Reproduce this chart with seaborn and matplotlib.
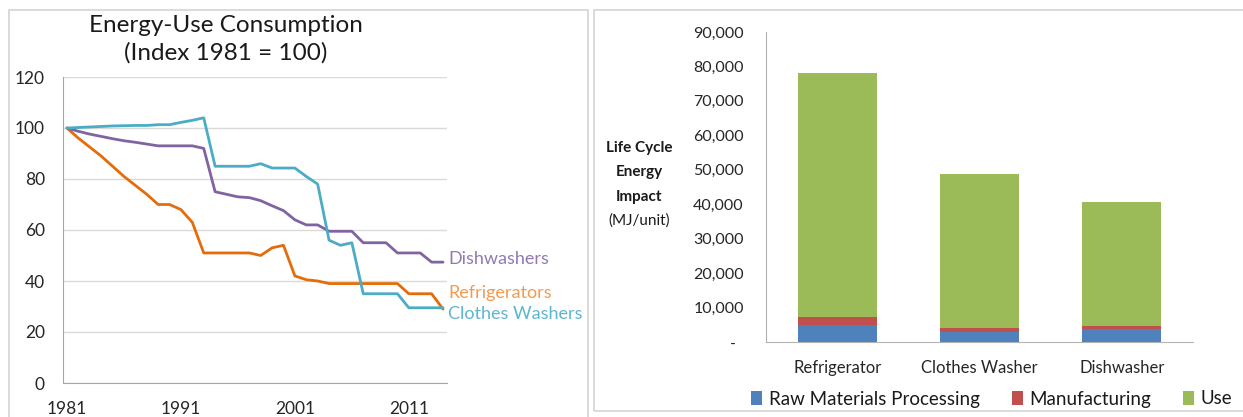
import pandas as pd
import matplotlib
matplotlib.use("Agg")
import matplotlib.pyplot as plt
import seaborn as sns
from matplotlib.patches import Patch, Rectangle
from matplotlib.ticker import FixedLocator

# --- data ---
years = list(range(1981, 2015))
refrigerators = [100, 96, 92.5, 89, 85, 81, 77.5, 74, 70, 70,
                 68, 63, 51, 51, 51, 51, 51, 50, 53, 54,
                 42, 40.5, 40, 39, 39, 39, 39, 39, 39, 39,
                 35, 35, 35, 29]
dishwashers = [100, 98.7, 97.6, 96.7, 95.8, 95, 94.4, 93.7, 93, 93,
               93, 93, 92, 75, 74, 73, 72.7, 71.5, 69.5, 67.6,
               64, 62, 62, 59.5, 59.5, 59.5, 55, 55, 55, 51,
               51, 51, 47.4, 47.4]
clothes_washers = [100, 100.2, 100.4, 100.6, 100.8, 100.9, 101, 101, 101.3, 101.3,
                   102.2, 103, 104, 85, 85, 85, 85, 86, 84.3, 84.3,
                   84.3, 81, 78, 56, 54, 55, 35, 35, 35, 35,
                   29.5, 29.5, 29.5, 29.5]

appliances = ["Refrigerator", "Clothes Washer", "Dishwasher"]
raw_materials = [5000, 2900, 3800]
manufacturing = [2200, 1100, 950]
use_phase = [71000, 44850, 35950]

sns.set_style("white")
plt.rcParams["font.family"] = ["Lato", "DejaVu Sans"]

W, H = 1243, 417
fig = plt.figure(figsize=(W / 100, H / 100), dpi=100)

def box(x0, y0, x1, y1):
    # pixel box (top-left origin) -> figure fraction rect
    return [x0 / W, 1 - y1 / H, (x1 - x0) / W, (y1 - y0) / H]

# panel frames
for x0, y0, x1, y1 in [(9, 10, 588, 425), (594, 10, 1250, 411)]:
    r = box(x0, y0, x1, y1)
    fig.add_artist(Rectangle((r[0], r[1]), r[2], r[3], transform=fig.transFigure,
                             fill=False, edgecolor="#D4D4D4", linewidth=1.2))

# ---------------- left: energy-use index ----------------
ax1 = fig.add_axes(box(63, 77, 447, 383))
df = pd.DataFrame({
    "year": years * 3,
    "index": refrigerators + dishwashers + clothes_washers,
    "appliance": ["Refrigerators"] * len(years) + ["Dishwashers"] * len(years)
                 + ["Clothes Washers"] * len(years),
})
line_colors = {"Refrigerators": "#E46C0A", "Dishwashers": "#8064A2",
               "Clothes Washers": "#4BACC6"}
sns.lineplot(data=df, x="year", y="index", hue="appliance", palette=line_colors,
             linewidth=2.0, legend=False, ax=ax1)
ax1.set_xlim(1980.65, 2014.35)
ax1.set_ylim(0, 120)
ax1.set_yticks(range(0, 121, 20))
ax1.set_xticks([1981, 1991, 2001, 2011])
ax1.yaxis.grid(True, color="#DADADA", linewidth=1)
ax1.set_axisbelow(True)
ax1.set_xlabel("")
ax1.set_ylabel("")
for s in ["top", "right"]:
    ax1.spines[s].set_visible(False)
for s in ["left", "bottom"]:
    ax1.spines[s].set_color("#A6A6A6")
ax1.tick_params(axis="y", direction="out", length=4, color="#A6A6A6",
                labelsize=12.5, labelcolor="#262626", pad=9)
ax1.tick_params(axis="x", direction="inout", length=6, color="#A6A6A6",
                labelsize=12.5, labelcolor="#262626", pad=10)
fig.text(226 / W, 1 - 25 / H, "Energy-Use Consumption", ha="center", va="center",
         fontsize=17.5, color="#1A1A1A")
fig.text(226 / W, 1 - 53 / H, "(Index 1981 = 100)", ha="center", va="center",
         fontsize=17.5, color="#1A1A1A")
label_pos = [("Dishwashers", 48.6, "#9179B3"), ("Refrigerators", 35.3, "#F39A52"),
             ("Clothes Washers", 27.2, "#5DB6CE")]
for name, yv, c in label_pos:
    ax1.text(2014.45, yv, name, ha="left", va="center", fontsize=13, color=c,
             clip_on=False)

# ---------------- right: life cycle energy ----------------
ax2 = fig.add_axes(box(766, 32, 1193, 342))
totals = [r + m + u for r, m, u in zip(raw_materials, manufacturing, use_phase)]
raw_mfg = [r + m for r, m in zip(raw_materials, manufacturing)]
bar_colors = {"Raw Materials Processing": "#4F81BD", "Manufacturing": "#C0504D",
              "Use": "#9BBB59"}
sns.barplot(x=appliances, y=totals, color=bar_colors["Use"], saturation=1,
            width=0.555, linewidth=0, ax=ax2)
sns.barplot(x=appliances, y=raw_mfg, color=bar_colors["Manufacturing"], saturation=1,
            width=0.555, linewidth=0, ax=ax2)
sns.barplot(x=appliances, y=raw_materials, color=bar_colors["Raw Materials Processing"],
            saturation=1, width=0.555, linewidth=0, ax=ax2)
ax2.set_xlim(-0.5, 2.5)
ax2.set_ylim(0, 90000)
yt = list(range(0, 90001, 10000))
ax2.set_yticks(yt)
ax2.set_yticklabels(["-  "] + [f"{v:,}" for v in yt[1:]])
ax2.xaxis.set_minor_locator(FixedLocator([-0.5, 0.5, 1.5, 2.5]))
for s in ["top", "right"]:
    ax2.spines[s].set_visible(False)
for s in ["left", "bottom"]:
    ax2.spines[s].set_color("#B3B3B3")
ax2.tick_params(axis="x", which="major", length=0, labelsize=12,
                labelcolor="#262626", pad=13)
ax2.tick_params(axis="x", which="minor", direction="out", length=5, color="#B3B3B3")
ax2.tick_params(axis="y", direction="out", length=4, color="#B3B3B3",
                labelsize=11.5, labelcolor="#262626", pad=12)
ax2.set_xlabel("")
ax2.set_ylabel("")
for txt, yp, wt in [("Life Cycle", 148, "bold"), ("Energy", 172, "bold"),
                    ("Impact", 197, "bold"), ("(MJ/unit)", 221, "normal")]:
    fig.text(639 / W, 1 - yp / H, txt, ha="center", va="center", fontsize=11,
             fontweight=wt, color="#1A1A1A")

handles = [Patch(facecolor=c, edgecolor="none", label=k) for k, c in bar_colors.items()]
fig.legend(handles=handles, loc="center left", bbox_to_anchor=(751 / W, 1 - 399 / H),
           ncol=3, frameon=False, fontsize=13.5, handlelength=0.6, handleheight=0.8,
           handletextpad=0.35, columnspacing=1.7, borderaxespad=0, borderpad=0,
           labelcolor="#1A1A1A")

fig.savefig("out.png", dpi=100)
